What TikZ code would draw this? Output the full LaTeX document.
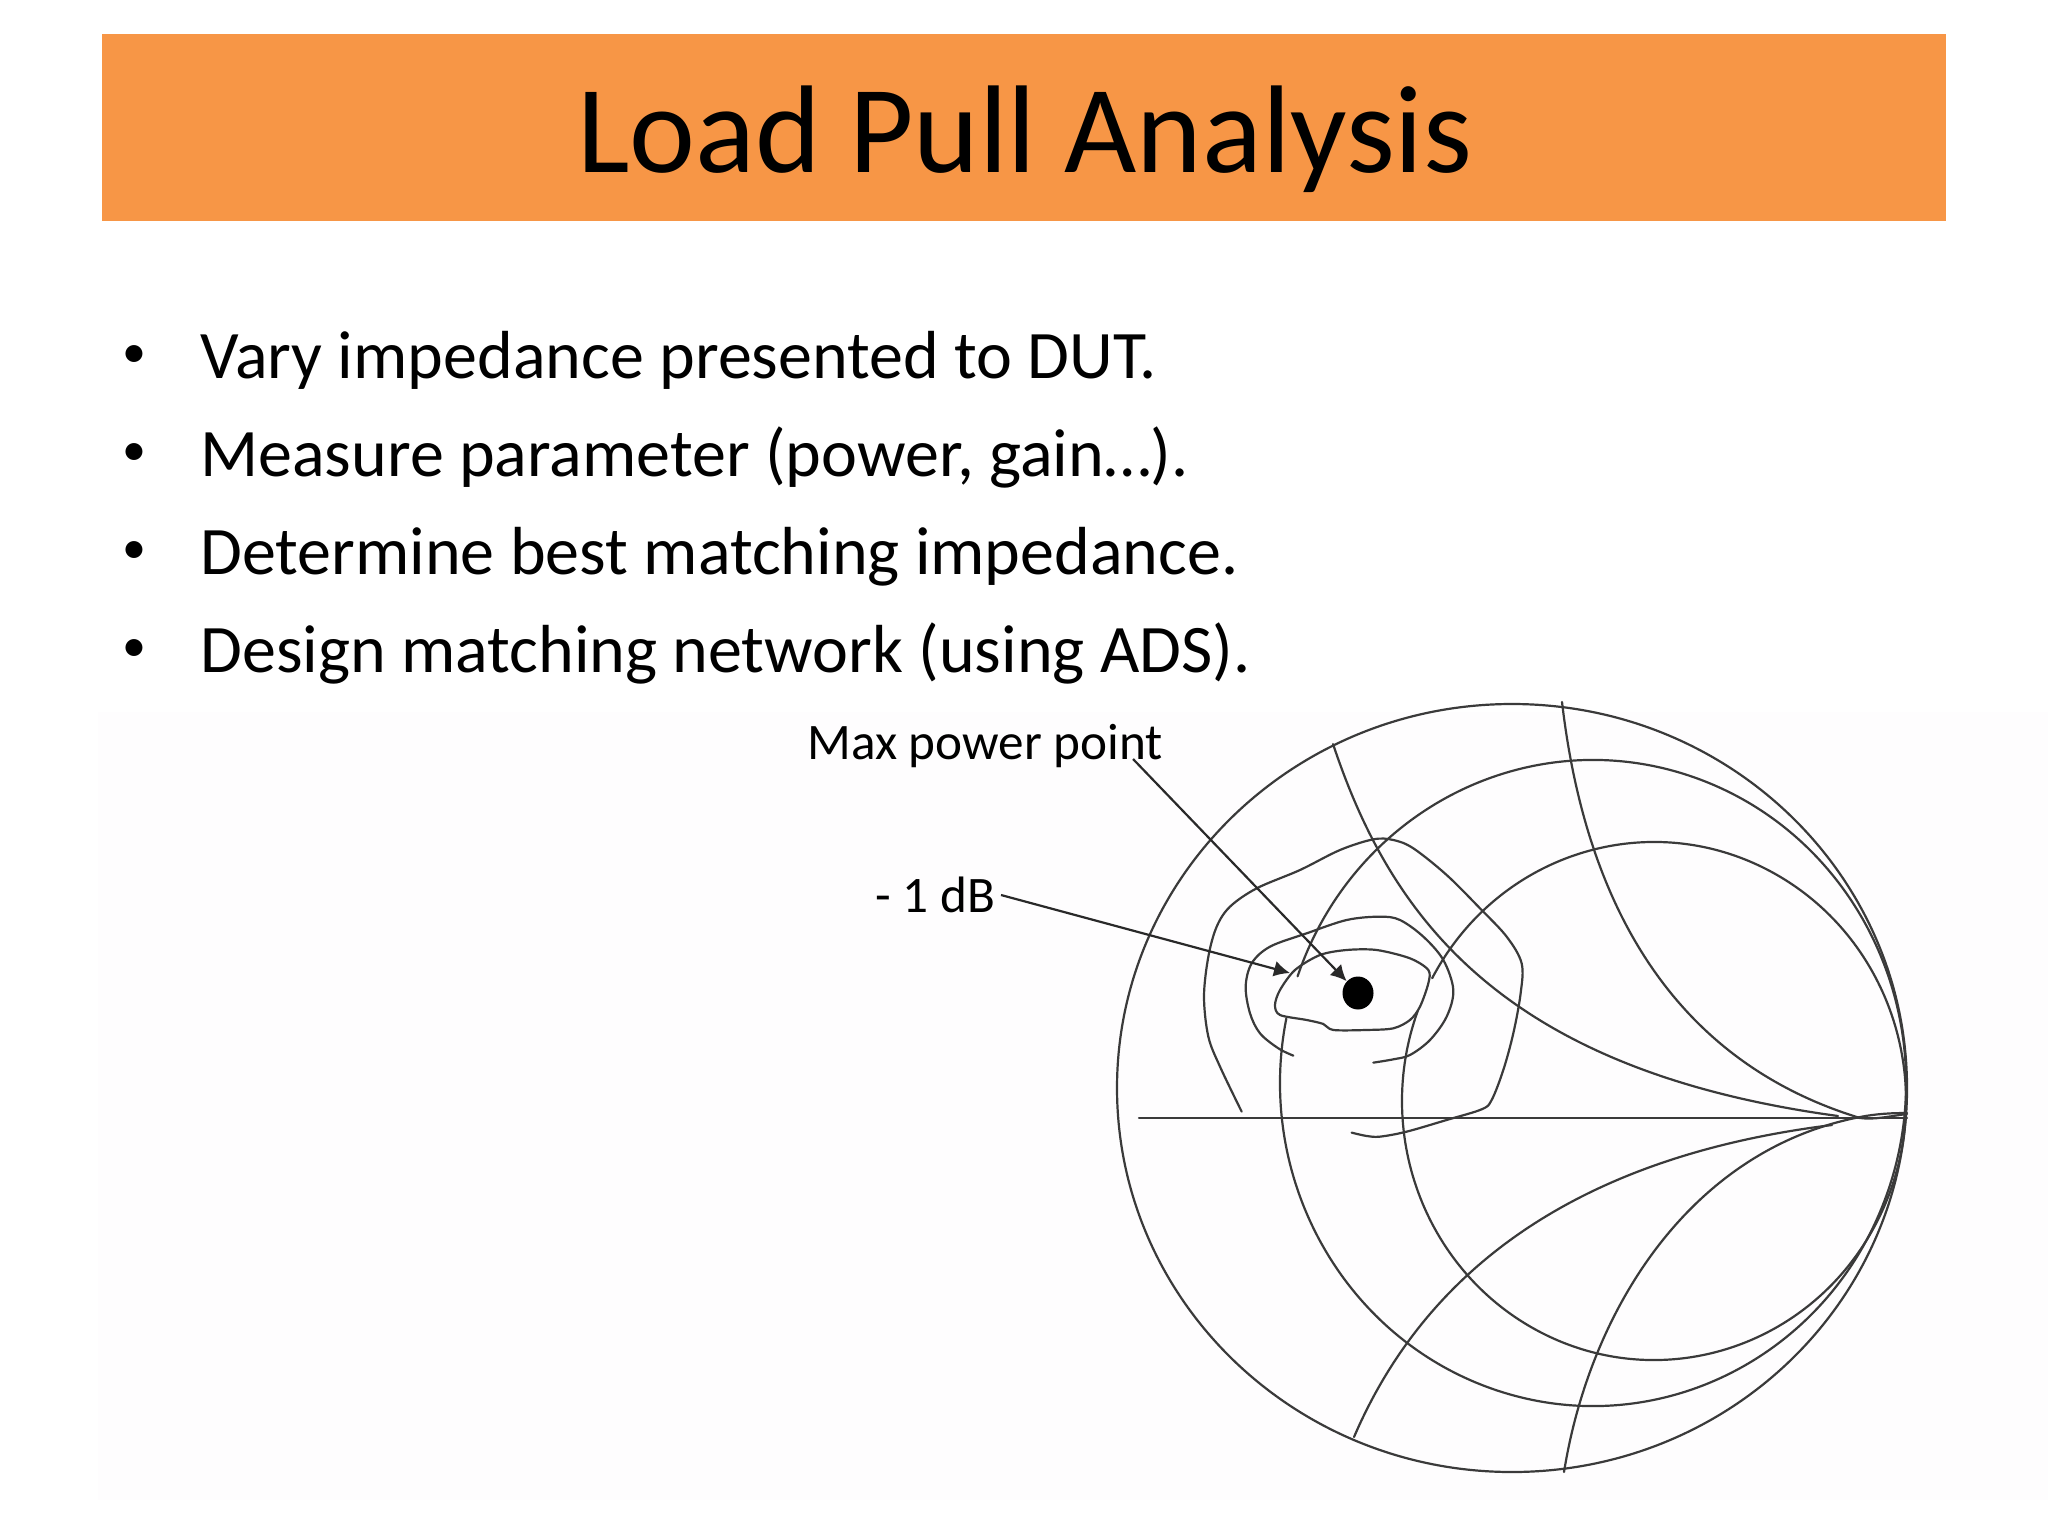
\documentclass[tikz,border=0pt]{standalone}
\usepackage{fontspec}
\setmainfont{Carlito}
\usetikzlibrary{arrows.meta,shapes.geometric}
\definecolor{banner}{HTML}{F79646}
\definecolor{ink}{HTML}{3A3A3A}
\definecolor{tint}{HTML}{FEFDFE}
\tikzset{
  sketch/.style={draw=ink,line width=1.1pt,line cap=round,line join=round},
  sm/.style={smooth,tension=0.55},
  lead/.style={draw=ink!70!black,line width=1.1pt,-{Latex[length=8pt,width=8pt]}},
  bullettext/.style={anchor=base west,inner sep=0pt,font=\fontsize{34}{40}\selectfont,text=black},
  bulletmark/.style={anchor=base,inner sep=0pt,font=\fontsize{24}{28}\selectfont,text=black},
  callout/.style={anchor=base west,inner sep=0pt,font=\fontsize{25.6}{30}\selectfont,text=black},
  zoomB/.style={shift={(1180,820)},scale=0.3333},
}
\begin{document}
\begin{tikzpicture}[x=0.5pt,y=-0.5pt]
\useasboundingbox (0,0) rectangle (2048,1536);
\fill[white] (0,0) rectangle (2048,1536);
\fill[tint] (98,712) rectangle (2048,1500);
\fill[banner] (102,34) rectangle (1946,221);
\node[anchor=base,inner sep=0pt,font=\fontsize{62.4}{68}\selectfont] (title) at (1025,172) {Load Pull Analysis};
\node[bulletmark] (b1) at (134,367) {•};
\node[bulletmark] (b2) at (134,465) {•};
\node[bulletmark] (b3) at (134,563) {•};
\node[bulletmark] (b4) at (134,661) {•};
\node[bullettext] (t1) at (200,378) {Vary impedance presented to DUT.};
\node[bullettext] (t2) at (200,476) {Measure parameter (power, gain…).};
\node[bullettext] (t3) at (200,574) {Determine best matching impedance.};
\node[bullettext] (t4) at (200,672) {Design matching network (using ADS).};
\node[callout] (maxp) at (807,759) {Max power point};
\node[callout] (db) at (875,912) {- 1 dB};

% chart
\draw[sketch] (1512,1088) ellipse [x radius=395,y radius=384];
\draw[sketch] (1139,1118) -- (1907,1118);
\draw[sketch] (1593,1083) ++(160.7:313 and -323) arc [start angle=-160.7,end angle=191.5,x radius=313,y radius=323];
\draw[sketch] (1654,1101) ++(151.7:252 and -259) arc [start angle=-151.7,end angle=200.3,x radius=252,y radius=259];
\draw[sketch] (1562,702) .. controls (1585,900) and (1670,1060) .. (1860,1118) .. controls (1875,1120) and (1890,1116) .. (1907,1114);
\draw[sketch] (1333,744) .. controls (1390,915) and (1500,1070) .. (1838,1116);
\draw[sketch] (1354,1437) .. controls (1430,1260) and (1590,1155) .. (1832,1125);
\draw[sketch] (1564,1472) .. controls (1590,1310) and (1690,1150) .. (1860,1117) .. controls (1875,1114) and (1890,1113) .. (1907,1113);
\begin{scope}[zoomB]
\draw[sketch] plot[sm] coordinates {(185,875) (120,740) (85,650) (72,530) (85,410) (110,320) (150,260) (230,205) (360,150) (480,90) (580,58) (640,60) (700,85) (800,165) (900,265) (980,350) (1025,430) (1022,520) (1000,640) (970,750) (935,840) (905,868) (800,900) (680,935) (600,950) (560,948) (515,938)};
\draw[sketch] plot[sm] coordinates {(340,707) (295,685) (240,640) (210,580) (197,500) (215,430) (270,380) (380,340) (500,300) (600,290) (660,300) (730,350) (790,420) (820,510) (800,590) (750,660) (690,705) (640,718) (580,728)};
\draw[sketch] plot[smooth cycle,tension=0.5] coordinates {(285,555) (300,510) (345,450) (420,405) (500,390) (590,390) (690,415) (745,450) (745,490) (720,560) (690,600) (640,625) (560,630) (460,630) (430,612) (380,600) (300,585)};
\end{scope}
\node[ellipse,fill=black,inner sep=0pt,minimum width=15.5pt,minimum height=16.5pt] (dot) at (1358,993) {};
\coordinate (maxstart) at (1133,759);
\coordinate (dbstart) at (1001,895);
\coordinate (dbtip) at (1290,973);
\draw[lead] (maxstart) -- (dot);
\draw[lead] (dbstart) -- (dbtip);
\end{tikzpicture}
\end{document}
